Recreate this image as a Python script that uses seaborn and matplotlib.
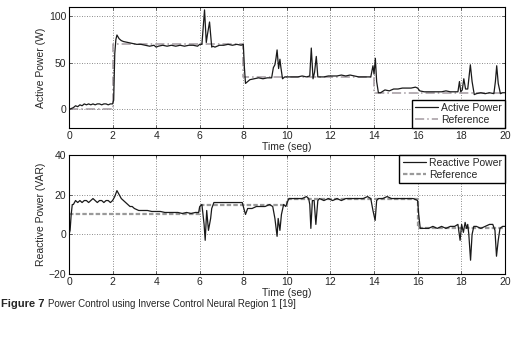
import numpy as np
import pandas as pd
import matplotlib
matplotlib.use('Agg')
import matplotlib.pyplot as plt
import seaborn as sns

# ---- data ----
active_t = [0, 0.1, 0.2, 0.3, 0.4, 0.5, 0.6, 0.7, 0.8, 0.9, 1.0, 1.1, 1.2, 1.3, 1.4, 1.5, 1.6, 1.7, 1.8, 1.9,
            2.0, 2.05, 2.1, 2.15, 2.2, 2.3, 2.4, 2.5, 2.7, 2.9, 3.1, 3.3, 3.5, 3.7, 3.9, 4.0, 4.1, 4.3, 4.5, 4.7,
            4.9, 5.1, 5.3, 5.5, 5.7, 5.9, 6.0, 6.1, 6.15, 6.22, 6.3, 6.35, 6.45, 6.55, 6.6, 6.7, 6.9, 7.1, 7.3, 7.5,
            7.7, 7.9, 8.0, 8.05, 8.1, 8.2, 8.3, 8.5, 8.7, 8.9, 9.1, 9.3, 9.38, 9.45, 9.5, 9.55, 9.62, 9.68, 9.72, 9.8,
            9.9, 10.1, 10.3, 10.5, 10.7, 10.9, 11.05, 11.12, 11.2, 11.27, 11.35, 11.42, 11.5, 11.7, 11.9, 12.1, 12.3,
            12.5, 12.7, 12.9, 13.1, 13.3, 13.5, 13.7, 13.85, 13.95, 14.0, 14.06, 14.12, 14.2, 14.3, 14.5, 14.7, 14.9,
            15.1, 15.3, 15.5, 15.7, 15.9, 16.0, 16.1, 16.3, 16.5, 16.7, 16.9, 17.1, 17.3, 17.5, 17.7, 17.85, 17.92,
            17.98, 18.05, 18.12, 18.2, 18.3, 18.42, 18.5, 18.6, 18.7, 18.9, 19.1, 19.3, 19.5, 19.57, 19.63, 19.7,
            19.8, 19.9, 20.0]
active_p = [0, 1, 2, 4, 3, 5, 4, 6, 5, 6, 5, 6, 5, 6, 6, 5, 6, 6, 5, 6,
            6, 10, 60, 75, 80, 76, 74, 73, 72, 71, 70, 70, 69, 68, 69, 67, 68, 69, 68, 69,
            68, 69, 68, 69, 69, 68, 70, 70, 85, 107, 72, 80, 94, 67, 68, 67, 69, 69, 70, 69,
            70, 69, 70, 45, 28, 30, 32, 33, 34, 33, 34, 34, 45, 48, 55, 64, 44, 54, 46, 33,
            35, 35, 35, 35, 36, 35, 36, 66, 33, 40, 57, 35, 35, 35, 36, 36, 36,
            37, 36, 37, 36, 35, 35, 35, 35, 47, 38, 55, 30, 18, 18, 21, 20, 22,
            22, 23, 23, 23, 24, 23, 20, 19, 19, 19, 19, 19, 20, 19, 19, 19, 30,
            19, 21, 33, 22, 22, 48, 30, 16, 17, 18, 17, 18, 17, 30, 47, 28,
            17, 18, 18]
active_ref_t = [0, 2, 2, 8, 8, 14, 14, 20]
active_ref = [0, 0, 70, 70, 35, 35, 18, 18]

reactive_t = [0, 0.05, 0.1, 0.15, 0.2, 0.3, 0.4, 0.5, 0.6, 0.7, 0.8, 0.9, 1.0, 1.1, 1.2, 1.3, 1.4, 1.5, 1.6, 1.7,
              1.8, 1.9, 2.0, 2.1, 2.2, 2.3, 2.4, 2.5, 2.6, 2.7, 2.8, 2.9, 3.0, 3.2, 3.4, 3.6, 3.8, 4.0, 4.2, 4.4,
              4.6, 4.8, 5.0, 5.2, 5.4, 5.6, 5.8, 5.95, 6.0, 6.1, 6.2, 6.25, 6.32, 6.4, 6.5, 6.55, 6.65, 6.8, 7.0, 7.2,
              7.4, 7.6, 7.8, 7.95, 8.05, 8.1, 8.2, 8.4, 8.6, 8.8, 9.0, 9.2, 9.35, 9.45, 9.55, 9.6, 9.68, 9.75, 9.85,
              9.95, 10.05, 10.1, 10.3, 10.5, 10.7, 10.9, 11.0, 11.05, 11.1, 11.17, 11.25, 11.33, 11.42, 11.5, 11.7,
              11.9, 12.1, 12.3, 12.5, 12.7, 12.9, 13.1, 13.3, 13.5, 13.7, 13.85, 13.95, 14.05, 14.12, 14.2, 14.4,
              14.6, 14.8, 15.0, 15.2, 15.4, 15.6, 15.8, 16.0, 16.05, 16.12, 16.3, 16.5, 16.7, 16.9, 17.1, 17.3, 17.5,
              17.7, 17.85, 17.95, 18.02, 18.1, 18.18, 18.25, 18.3, 18.35, 18.43, 18.5, 18.58, 18.7, 18.9, 19.1,
              19.3, 19.45, 19.55, 19.62, 19.7, 19.78, 19.9, 20.0]
reactive_q = [0, 2, 10, 15, 15, 17, 16, 17, 16, 17, 17, 16, 17, 18, 17, 16, 17, 17, 16, 17,
              17, 16, 17, 19, 22, 20, 18, 17, 16, 15, 14, 14, 13, 12, 12, 12, 11.5, 11.5, 11.5, 11,
              11, 11, 11, 10.5, 11, 10.5, 11, 11, 14, 15, 5, -3, 12, 2, 8, 13, 16, 16, 16, 16,
              16, 16, 16, 16, 12, 10, 13, 13, 14, 14, 14, 15, 14, 8, -1, 8, 2, 10, 15,
              14, 17, 18, 18, 18, 18, 19, 18, 15, 3, 17, 17, 5, 17, 18, 17,
              18, 17, 18, 17, 18, 18, 18, 18, 18, 19, 18, 12, 7, 17, 18, 18,
              19, 18, 18, 18, 18, 18, 18, 17, 10, 3, 3, 3, 4, 3, 4, 3, 4,
              4, 5, -3, 5, 1, 6, 3, 5, 0, -13, 0, 4, 4, 3, 4,
              5, 5, 2, -11, -3, 3, 4, 4]
reactive_ref_t = [0, 6, 6, 10, 10, 16, 16, 20]
reactive_ref = [10, 10, 15, 15, 18, 18, 3, 3]

sns.set_style('ticks')
plt.rcParams['font.family'] = ['Liberation Sans', 'DejaVu Sans']
plt.rcParams['font.size'] = 7.5

fig = plt.figure(figsize=(5.28, 3.38), dpi=100)
ax1 = fig.add_axes([0.1307, 0.621, 0.8253, 0.358])
ax2 = fig.add_axes([0.1307, 0.189, 0.8253, 0.353])


def style_axes(ax, ylim, yticks):
    ax.set_xlim(0, 20)
    ax.set_ylim(*ylim)
    ax.set_xticks(range(0, 21, 2))
    ax.set_yticks(yticks)
    ax.grid(True, color='#666666', linestyle=(0, (1, 2)), linewidth=0.6)
    ax.tick_params(direction='in', length=2, width=0.5, top=True, right=True, labelsize=7.5, pad=2)
    for s in ax.spines.values():
        s.set_linewidth(0.8)
        s.set_color('black')
    ax.set_xlabel('Time (seg)', fontsize=7.5, labelpad=1)


df_a = pd.DataFrame({'t': active_t, 'p': active_p})
df_ar = pd.DataFrame({'t': active_ref_t, 'p': active_ref})
sns.lineplot(data=df_ar, x='t', y='p', ax=ax1, estimator=None, sort=False, color='#a39aa0',
             linestyle=(0, (6, 2, 1, 2)), linewidth=1.1, label='Reference')
sns.lineplot(data=df_a, x='t', y='p', ax=ax1, estimator=None, sort=False, color='#1a1a1a',
             linewidth=0.9, label='Active Power')
style_axes(ax1, (-20, 110), [0, 50, 100])
ax1.set_ylabel('Active Power (W)', fontsize=7.5, labelpad=2)
h, l = ax1.get_legend_handles_labels()
ax1.legend(h[::-1], l[::-1], loc='lower right', frameon=True, fancybox=False, edgecolor='black',
           framealpha=1, fontsize=7.5, handlelength=2.2, handletextpad=0.3, borderpad=0.3,
           labelspacing=0.2, borderaxespad=0)

df_q = pd.DataFrame({'t': reactive_t, 'q': reactive_q})
df_qr = pd.DataFrame({'t': reactive_ref_t, 'q': reactive_ref})
sns.lineplot(data=df_qr, x='t', y='q', ax=ax2, estimator=None, sort=False, color='#9a9a9a',
             linestyle=(0, (2, 1)), linewidth=1.6, label='Reference')
sns.lineplot(data=df_q, x='t', y='q', ax=ax2, estimator=None, sort=False, color='#1a1a1a',
             linewidth=0.9, label='Reactive Power')
style_axes(ax2, (-20, 40), [-20, 0, 20, 40])
ax2.set_ylabel('Reactive Power (VAR)', fontsize=7.5, labelpad=2)
h, l = ax2.get_legend_handles_labels()
ax2.legend(h[::-1], l[::-1], loc='upper right', frameon=True, fancybox=False, edgecolor='black',
           framealpha=1, fontsize=7.5, handlelength=2.2, handletextpad=0.3, borderpad=0.3,
           labelspacing=0.2, borderaxespad=0)

# caption
cap1 = fig.text(0.002, 0.1, 'Figure 7', fontsize=8, fontweight='bold', va='center', ha='left')
fig.canvas.draw()
bb = cap1.get_window_extent().transformed(fig.transFigure.inverted())
fig.text(bb.x1 + 0.006, 0.1, 'Power Control using Inverse Control Neural Region 1 [19]',
         fontsize=7, va='center', ha='left')

fig.savefig('out.png', dpi=100)
